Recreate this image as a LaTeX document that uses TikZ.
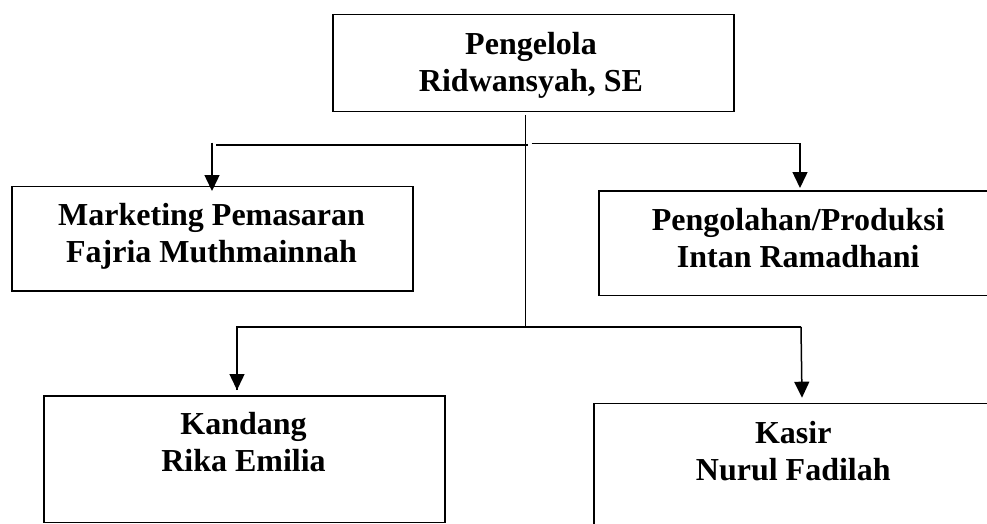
\documentclass[tikz,border=0pt]{standalone}
\usepackage{fontspec}
\setmainfont{Liberation Serif}
\usetikzlibrary{arrows.meta}
\tikzset{
  orgbox/.style={draw=black, line width=1.5pt, rectangle, inner sep=0pt, anchor=north west},
  orgtext/.style={align=center, inner sep=0pt, anchor=base, font=\fontsize{32}{36.8}\selectfont\bfseries},
  conn/.style={draw=black, line width=1.5pt},
  arr/.style={conn, -{Triangle[length=16pt,width=15pt]}}
}
\begin{document}
\begin{tikzpicture}[x=1pt,y=-1pt]
\useasboundingbox (0,0) rectangle (987,524);
\clip (0,0) rectangle (987,524);
\fill[white] (0,0) rectangle (987,524);
% boxes
\node[orgbox, minimum width=401pt, minimum height=97pt] (top) at (332,14) {};
\node[orgbox, minimum width=401pt, minimum height=104.3pt] (mkt) at (11,185.7) {};
\node[orgbox, minimum width=420pt, minimum height=104.7pt] (prod) at (598,190) {};
\node[orgbox, minimum width=401pt, minimum height=126.7pt] (kdg) at (43,395) {};
\node[orgbox, minimum width=420pt, minimum height=140pt] (ksr) at (593,402.7) {};
% texts (anchor = baseline of the last line)
\node[orgtext] (ttop) at (531,91.7) {Pengelola\\Ridwansyah, SE};
\node[orgtext] (tmkt) at (211.5,262.3) {Marketing Pemasaran\\Fajria Muthmainnah};
\node[orgtext] (tprod) at (798.3,267.7) {Pengolahan/Produksi\\Intan Ramadhani};
\node[orgtext] (tkdg) at (243.5,471.7) {Kandang\\Rika Emilia};
\node[orgtext] (tksr) at (793.3,480) {Kasir\\Nurul Fadilah};
% junction coordinates
\coordinate (vtop) at (525.5,115);
\coordinate (vbot) at (525.5,327);
\coordinate (hl1) at (528,145);
\coordinate (hl0) at (216,145);
\coordinate (al0) at (212,142.7);
\coordinate (al1) at (212,191);
\coordinate (hr0) at (531.7,143.3);
\coordinate (hr1) at (800,143.3);
\coordinate (ar1) at (800,188);
\coordinate (bl) at (237,327);
\coordinate (br) at (801,327);
\coordinate (bla) at (237,390);
\coordinate (bra) at (802,397.7);
% connectors
\draw[conn] (vtop) -- (vbot);
\draw[conn] (hl0) -- (hl1);
\draw[arr] (al0) -- (al1);
\draw[conn] (hr0) -- (hr1);
\draw[arr] (hr1) -- (ar1);
\draw[conn] (bla) |- (br);
\draw[arr] (bl) -- (bla);
\draw[arr] (br) -- (bra);
\end{tikzpicture}
\end{document}
